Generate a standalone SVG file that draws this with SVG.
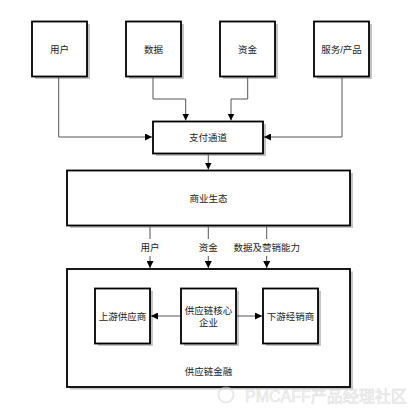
<svg xmlns="http://www.w3.org/2000/svg" width="418" height="414" viewBox="0 0 418 414">
<defs>
<marker id="ah" viewBox="0 0 10 10" refX="10" refY="5" markerWidth="7" markerHeight="7" markerUnits="userSpaceOnUse" orient="auto"><path d="M0,0 L10,5 L0,10 z" fill="#000"/></marker>
</defs>
<style>
.sh{fill:#c4c4c4}
.bx{fill:#fff;stroke:#000;stroke-width:1.8}
.t{font-family:"Liberation Sans","Noto Sans CJK SC",sans-serif;font-size:9.5px;fill:#222;text-anchor:middle;dominant-baseline:central}
.c{fill:none;stroke:#555;stroke-width:1}
</style>
<rect width="418" height="414" fill="#fff"/>
<g id="n-yonghu"><rect class="sh" x="35" y="24" width="55" height="55"/><rect class="bx" x="32" y="21.5" width="55" height="55"/><text class="t" x="59.5" y="49">用户</text></g>
<g id="n-shuju"><rect class="sh" x="129" y="24" width="55" height="55"/><rect class="bx" x="126" y="21.5" width="55" height="55"/><text class="t" x="153.5" y="49">数据</text></g>
<g id="n-zijin"><rect class="sh" x="223" y="24" width="55" height="55"/><rect class="bx" x="220" y="21.5" width="55" height="55"/><text class="t" x="247.5" y="49">资金</text></g>
<g id="n-fuwu"><rect class="sh" x="317" y="24" width="55" height="55"/><rect class="bx" x="314" y="21.5" width="55" height="55"/><text class="t" x="341.5" y="49">服务/产品</text></g>
<g id="n-zhifu"><rect class="sh" x="156" y="124" width="110" height="32"/><rect class="bx" x="153" y="121.5" width="110" height="32"/><text class="t" x="208" y="137.5">支付通道</text></g>
<g id="n-shangye"><rect class="sh" x="70" y="173" width="283" height="55"/><rect class="bx" x="67" y="170.5" width="283" height="55"/><text class="t" x="208.5" y="198">商业生态</text></g>
<g id="n-jinrong"><rect class="sh" x="70" y="271.5" width="283" height="118"/><rect class="bx" x="67" y="269" width="283" height="118"/><text class="t" x="208.5" y="371.5">供应链金融</text></g>
<g id="n-shangyou"><rect class="sh" x="98" y="291" width="55" height="55"/><rect class="bx" x="95" y="288.5" width="55" height="55"/><text class="t" x="122.5" y="316">上游供应商</text></g>
<g id="n-hexin"><rect class="sh" x="184" y="291" width="55" height="55"/><rect class="bx" x="181" y="288.5" width="55" height="55"/><text class="t" x="208.5" y="310">供应链核心</text><text class="t" x="208.5" y="322">企业</text></g>
<g id="n-xiayou"><rect class="sh" x="266" y="291" width="55" height="55"/><rect class="bx" x="263" y="288.5" width="55" height="55"/><text class="t" x="290.5" y="316">下游经销商</text></g>
<g id="connectors">
<path class="c" d="M58.7,77 V137 H152" marker-end="url(#ah)"/>
<path class="c" d="M153,77 V99 H185.7 V120.5" marker-end="url(#ah)"/>
<path class="c" d="M247.7,77 V99 H231 V120.5" marker-end="url(#ah)"/>
<path class="c" d="M342,77 V137 H264" marker-end="url(#ah)"/>
<path class="c" d="M208.3,154.5 V169.5" marker-end="url(#ah)"/>
<path class="c" d="M150,226.5 V239"/><path class="c" d="M150,256 V268" marker-end="url(#ah)"/>
<path class="c" d="M208.3,226.5 V239"/><path class="c" d="M208.3,256 V268" marker-end="url(#ah)"/>
<path class="c" d="M266.7,226.5 V239"/><path class="c" d="M266.7,256 V268" marker-end="url(#ah)"/>
<path class="c" d="M180,316 H151" marker-end="url(#ah)"/>
<path class="c" d="M237,316 H262" marker-end="url(#ah)"/>
</g>
<text class="t" x="150" y="247.5">用户</text>
<text class="t" x="208.3" y="247.5">资金</text>
<text class="t" x="266.7" y="247.5">数据及营销能力</text>
<g id="watermark" opacity="0.55">
<circle cx="226" cy="395" r="7.5" fill="none" stroke="#d8d8d8" stroke-width="2"/>
<text x="245" y="402" font-family="'Liberation Sans','Noto Sans CJK SC',sans-serif" font-size="16" fill="#eeeeee" stroke="#c8c8c8" stroke-width="0.6">PMCAFF产品经理社区</text>
</g>
</svg>
